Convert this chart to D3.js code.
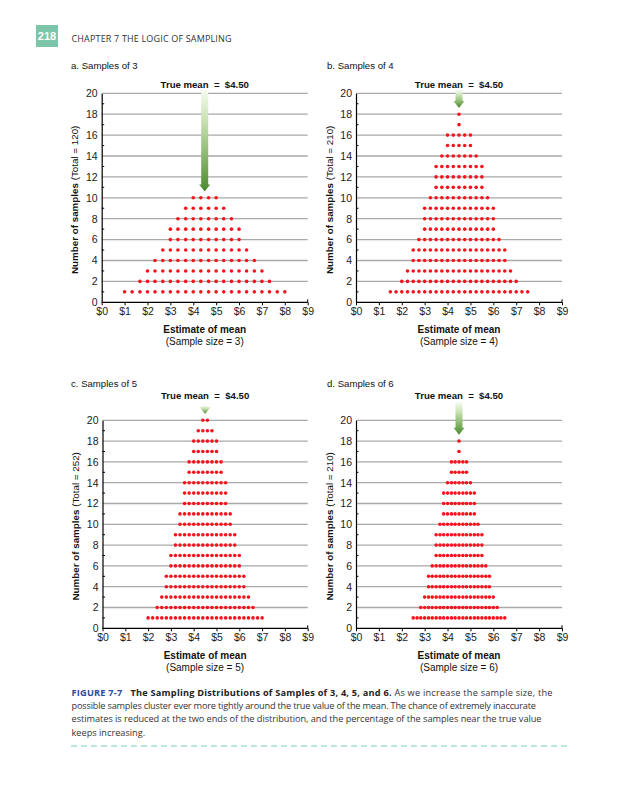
<!DOCTYPE html>
<html>
<head>
<meta charset="utf-8">
<script src="https://cdn.jsdelivr.net/npm/d3@7"></script>
<style>
  body { margin: 0; background: #fff; }
  svg { display: block; }
</style>
</head>
<body>
<script>
// Sampling distributions of sample means, drawn as stacked dot plots

const xTicks = [0, 1, 2, 3, 4, 5, 6, 7, 8, 9];
const yTicks = [0, 2, 4, 6, 8, 10, 12, 14, 16, 18, 20];
const yMinor = [1, 3, 5, 7, 9, 11, 13, 15, 17, 19];
const trueMean = 4.5;

// possible sample means and how many samples give each one
const meansA = [1.00, 1.33, 1.67, 2.00, 2.33, 2.67, 3.00, 3.33, 3.67, 4.00, 4.33,
                4.67, 5.00, 5.33, 5.67, 6.00, 6.33, 6.67, 7.00, 7.33, 7.67, 8.00];
const countsA = [1, 1, 2, 3, 4, 5, 7, 8, 9, 10, 10, 10, 10, 9, 8, 7, 5, 4, 3, 2, 1, 1];

const meansB = [1.50, 1.75, 2.00, 2.25, 2.50, 2.75, 3.00, 3.25, 3.50, 3.75, 4.00, 4.25, 4.50,
                4.75, 5.00, 5.25, 5.50, 5.75, 6.00, 6.25, 6.50, 6.75, 7.00, 7.25, 7.50];
const countsB = [1, 1, 2, 3, 5, 6, 9, 10, 13, 14, 16, 16, 18, 16, 16, 14, 13, 10, 9, 6, 5, 3, 2, 1, 1];

const meansC = [2.0, 2.2, 2.4, 2.6, 2.8, 3.0, 3.2, 3.4, 3.6, 3.8, 4.0, 4.2, 4.4,
                4.6, 4.8, 5.0, 5.2, 5.4, 5.6, 5.8, 6.0, 6.2, 6.4, 6.6, 6.8, 7.0];
const countsC = [1, 1, 2, 3, 5, 7, 9, 11, 14, 16, 18, 19, 20, 20, 19, 18, 16, 14, 11, 9, 7, 5, 3, 2, 1, 1];

const meansD = [2.50, 2.67, 2.83, 3.00, 3.17, 3.33, 3.50, 3.67, 3.83, 4.00, 4.17, 4.33, 4.50,
                4.67, 4.83, 5.00, 5.17, 5.33, 5.50, 5.67, 5.83, 6.00, 6.17, 6.33, 6.50];
const countsD = [1, 1, 2, 3, 5, 6, 9, 10, 13, 14, 16, 16, 18, 16, 16, 14, 13, 10, 9, 6, 5, 3, 2, 1, 1];

const titles = ['a. Samples of 3', 'b. Samples of 4', 'c. Samples of 5', 'd. Samples of 6'];
const sampleSizes = [3, 4, 5, 6];
const totals = [120, 210, 252, 210];

const captionLines = [
  'possible samples cluster ever more tightly around the true value of the mean. The chance of extremely inaccurate',
  'estimates is reduced at the two ends of the distribution, and the percentage of the samples near the true value',
  'keeps increasing.'
];

const width = 636;
const height = 800;
const chartFont = '"Liberation Sans", Arial, sans-serif';
const bookFont = '"Open Sans", sans-serif';

const svg = d3.select('body')
  .append('svg')
  .attr('width', width)
  .attr('height', height);

// arrow gradient
const grad = svg.append('defs')
  .append('linearGradient')
  .attr('id', 'arrowGrad')
  .attr('x1', 0).attr('y1', 0).attr('x2', 0).attr('y2', 1);
grad.append('stop').attr('offset', '0%').attr('stop-color', '#f6fbf0');
grad.append('stop').attr('offset', '30%').attr('stop-color', '#c9e2b2');
grad.append('stop').attr('offset', '100%').attr('stop-color', '#4b8a2c');

// page header
svg.append('rect')
  .attr('x', 36).attr('y', 25).attr('width', 22).attr('height', 22)
  .attr('fill', '#7cc5a9');
svg.append('text')
  .attr('x', 47).attr('y', 40)
  .attr('text-anchor', 'middle')
  .attr('font-family', chartFont)
  .attr('font-weight', 'bold')
  .attr('font-size', 11)
  .attr('fill', '#fff')
  .text('218');
svg.append('text')
  .attr('x', 71.5).attr('y', 41.5)
  .attr('font-family', bookFont)
  .attr('font-size', 9)
  .attr('fill', '#333')
  .attr('textLength', 160)
  .attr('lengthAdjust', 'spacing')
  .text('CHAPTER 7  THE LOGIC OF SAMPLING');

// panel positions
const layout = [
  {left: 101.7, right: 307.7, bottom: 302.3, top: 93.3, titleX: 71, titleY: 68.5, meanY: 87.5, arrowTop: 90},
  {left: 356, right: 562, bottom: 302.3, top: 93.3, titleX: 327, titleY: 68.5, meanY: 87.5, arrowTop: 90},
  {left: 102.5, right: 307.7, bottom: 628.3, top: 420.3, titleX: 71, titleY: 387, meanY: 398.5, arrowTop: 406},
  {left: 356, right: 562, bottom: 628.3, top: 420.3, titleX: 327, titleY: 387, meanY: 398.5, arrowTop: 402}
];

const allMeans = [meansA, meansB, meansC, meansD];
const allCounts = [countsA, countsB, countsC, countsD];

layout.forEach((L, i) => {
  const xScale = d3.scaleLinear().domain([0, 9]).range([L.left, L.right]);
  const yScale = d3.scaleLinear().domain([0, 20]).range([L.bottom, L.top]);
  const g = svg.append('g');

  // gridlines
  g.append('g')
    .selectAll('line')
    .data(yTicks.filter(d => d > 0))
    .join('line')
    .attr('x1', xScale(0)).attr('x2', xScale(9))
    .attr('y1', d => yScale(d)).attr('y2', d => yScale(d))
    .attr('stroke', '#a9a9a9')
    .attr('stroke-width', 1.3);

  // y axis
  const yAxis = d3.axisLeft(yScale).tickValues(yTicks).tickSize(0).tickPadding(4);
  g.append('g')
    .attr('transform', `translate(${xScale(0)},0)`)
    .call(yAxis)
    .attr('font-family', chartFont)
    .attr('font-size', 10.5)
    .call(a => a.select('.domain').attr('stroke', '#000').attr('stroke-width', 1.2))
    .selectAll('text')
    .attr('fill', '#222');

  // minor ticks on the inside of the y axis
  g.append('g')
    .selectAll('line')
    .data(yMinor)
    .join('line')
    .attr('x1', xScale(0)).attr('x2', xScale(0) + 2.5)
    .attr('y1', d => yScale(d)).attr('y2', d => yScale(d))
    .attr('stroke', '#000');

  // x axis
  const xAxis = d3.axisBottom(xScale).tickValues(xTicks).tickSize(3).tickPadding(2)
    .tickFormat(d => '$' + d);
  g.append('g')
    .attr('transform', `translate(0,${yScale(0)})`)
    .call(xAxis)
    .attr('font-family', chartFont)
    .attr('font-size', 10.5)
    .call(a => a.select('.domain').attr('stroke', '#000').attr('stroke-width', 1.2).attr('d', `M${xScale(0)},0H${xScale(9)}`))
    .call(a => a.selectAll('.tick line').attr('stroke', '#000'))
    .selectAll('text')
    .attr('fill', '#222');
  g.append('line')
    .attr('x1', xScale(9)).attr('x2', xScale(9))
    .attr('y1', yScale(0) - 3).attr('y2', yScale(0))
    .attr('stroke', '#000');

  // dots: one per sample, stacked by count
  const dots = [];
  allMeans[i].forEach((m, j) => {
    for (let k = 1; k <= allCounts[i][j]; k++) dots.push({mean: m, level: k});
  });
  g.append('g')
    .selectAll('circle')
    .data(dots)
    .join('circle')
    .attr('cx', d => xScale(d.mean))
    .attr('cy', d => yScale(d.level))
    .attr('r', 1.8)
    .attr('fill', '#f5141c');

  // arrow to the true mean
  const ax = xScale(trueMean);
  const tip = yScale(d3.max(allCounts[i]) + 0.6);
  const headLen = 7;
  g.append('path')
    .attr('d', `M${ax - 3.5},${L.arrowTop} H${ax + 3.5} V${tip - headLen} H${ax + 5.5} L${ax},${tip} L${ax - 5.5},${tip - headLen} H${ax - 3.5} Z`)
    .attr('fill', 'url(#arrowGrad)');

  // labels
  g.append('text')
    .attr('x', L.titleX).attr('y', L.titleY)
    .attr('font-family', chartFont)
    .attr('font-size', 9.6)
    .attr('fill', '#111')
    .text(titles[i]);

  g.append('text')
    .attr('x', ax).attr('y', L.meanY)
    .attr('text-anchor', 'middle')
    .attr('font-family', chartFont)
    .attr('font-weight', 'bold')
    .attr('font-size', 9.6)
    .attr('fill', '#111')
    .attr('xml:space', 'preserve')
    .text('True mean  =  $4.50');

  const midX = (L.left + L.right) / 2;
  g.append('text')
    .attr('x', midX).attr('y', L.bottom + 30.5)
    .attr('text-anchor', 'middle')
    .attr('font-family', chartFont)
    .attr('font-weight', 'bold')
    .attr('font-size', 10)
    .attr('fill', '#111')
    .text('Estimate of mean');
  g.append('text')
    .attr('x', midX).attr('y', L.bottom + 42.5)
    .attr('text-anchor', 'middle')
    .attr('font-family', chartFont)
    .attr('font-size', 10)
    .attr('fill', '#111')
    .text(`(Sample size = ${sampleSizes[i]})`);

  const yl = g.append('text')
    .attr('transform', `translate(${L.left - 23.5},${(L.top + L.bottom) / 2 + 2}) rotate(-90)`)
    .attr('text-anchor', 'middle')
    .attr('font-family', chartFont)
    .attr('font-size', 9.8)
    .attr('fill', '#111');
  yl.append('tspan').attr('font-weight', 'bold').text('Number of samples');
  yl.append('tspan').text(` (Total = ${totals[i]})`);
});

// caption
const cap = svg.append('text')
  .attr('x', 71.5).attr('y', 695.5)
  .attr('font-family', bookFont)
  .attr('font-size', 9.2)
  .attr('fill', '#333')
  .attr('textLength', 481)
  .attr('lengthAdjust', 'spacing');
cap.append('tspan').attr('font-weight', 'bold').attr('fill', '#2d4b9e').text('FIGURE 7-7');
cap.append('tspan').attr('dx', 8).attr('font-weight', 'bold').attr('fill', '#222')
  .text('The Sampling Distributions of Samples of 3, 4, 5, and 6.');
cap.append('tspan').text(' As we increase the sample size, the');

const capWidths = [464.5, 470, null];
svg.append('g')
  .selectAll('text')
  .data(captionLines)
  .join('text')
  .attr('x', 71.5)
  .attr('y', (d, i) => 709 + i * 13.3)
  .attr('font-family', bookFont)
  .attr('font-size', 9.2)
  .attr('fill', '#333')
  .attr('textLength', (d, i) => capWidths[i])
  .attr('lengthAdjust', 'spacing')
  .text(d => d);

svg.append('line')
  .attr('x1', 71).attr('x2', 568)
  .attr('y1', 746).attr('y2', 746)
  .attr('stroke', '#77d1b3')
  .attr('stroke-width', 1)
  .attr('stroke-dasharray', '6,4');
</script>
</body>
</html>
